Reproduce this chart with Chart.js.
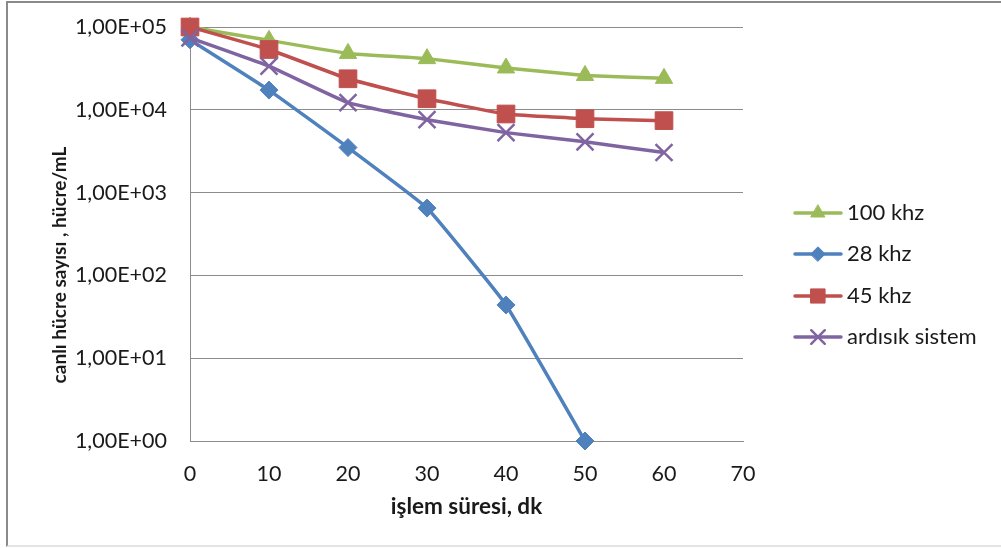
<!DOCTYPE html>
<html>
<head>
<meta charset="utf-8">
<title>canlı hücre sayısı</title>
<script src="https://cdn.jsdelivr.net/npm/chart.js@4.4.1/dist/chart.umd.min.js"></script>
<style>
    html, body { margin: 0; padding: 0; background: #fff; overflow: hidden; }
    #wrap { position: relative; width: 1001px; height: 548px; overflow: hidden; }
    #frame {
        position: absolute; left: 6px; top: 1px; width: 1020px; height: 542px;
        border: 2px solid #8a8a8a; border-bottom-color: #e4e4e4;
    }
    #chart { position: absolute; left: 0; top: 0; }
</style>
</head>
<body>
<div id="wrap">
    <div id="frame"></div>
    <canvas id="chart" width="1001" height="548"></canvas>
</div>
<script>
// işlem süresi (dk)
const sureler = [0, 10, 20, 30, 40, 50, 60];

// canlı hücre sayısı, hücre/mL
const khz100 = [100000, 69000, 48000, 41500, 32000, 26000, 24000];
const khz28 = [70000, 17300, 3500, 650, 44, 1];
const khz45 = [100000, 53500, 23700, 13600, 8900, 7800, 7400];
const ardisik = [74000, 33700, 12200, 7600, 5300, 4100, 3050];

const seriesNames = ['100 khz', '28 khz', '45 khz', 'ardısık sistem'];
const yTicks = [1, 10, 100, 1000, 10000, 100000];

const FONT = 'Lato, "Open Sans", "Liberation Sans", sans-serif';
const GRID = '#8c8c8c';
const INK = '#1a1a1a';

function toPoints(values) {
    return values.map((v, i) => ({ x: sureler[i], y: v }));
}

function sciLabel(v) {
    const exp = Math.round(Math.log10(v));
    return '1,00E+' + String(exp).padStart(2, '0');
}

function series(label, values, color, style, radius, borderW, order) {
    return {
        label: label,
        data: toPoints(values),
        borderColor: color,
        backgroundColor: color,
        borderWidth: 3.5,
        pointStyle: style,
        pointRadius: radius,
        pointHoverRadius: radius,
        pointBackgroundColor: color,
        pointBorderColor: color,
        pointBorderWidth: borderW,
        tension: 0.1,
        clip: false,
        order: order
    };
}

// legend on the right: line with the marker in the middle
const legendRows = [213, 254, 296, 337];
const seriesLegend = {
    id: 'seriesLegend',
    afterDraw(chart) {
        const ctx = chart.ctx;
        chart.data.datasets.forEach((ds, i) => {
            const y = legendRows[i];
            ctx.save();
            ctx.strokeStyle = ds.borderColor;
            ctx.lineWidth = ds.borderWidth;
            ctx.lineCap = 'round';
            ctx.beginPath();
            ctx.moveTo(795, y);
            ctx.lineTo(841, y);
            ctx.stroke();

            ctx.fillStyle = ds.pointBackgroundColor;
            ctx.strokeStyle = ds.pointBorderColor;
            ctx.lineWidth = ds.pointBorderWidth;
            Chart.helpers.drawPoint(ctx, {
                pointStyle: ds.pointStyle,
                radius: ds.pointRadius * 0.8,
                borderWidth: ds.pointBorderWidth,
                rotation: 0
            }, 818, y);

            ctx.fillStyle = INK;
            ctx.font = '22px ' + FONT;
            ctx.textAlign = 'left';
            ctx.textBaseline = 'middle';
            ctx.fillText(ds.label, 847, y);
            ctx.restore();
        });
    }
};

// vertical axis title, sits a bit below the plot's middle
const yTitle = {
    id: 'yTitle',
    afterDraw(chart) {
        const ctx = chart.ctx;
        ctx.save();
        ctx.translate(60, 265);
        ctx.rotate(-Math.PI / 2);
        ctx.font = 'bold 19px ' + FONT;
        ctx.fillStyle = INK;
        ctx.textAlign = 'center';
        ctx.textBaseline = 'middle';
        ctx.fillText('canlı hücre sayısı , hücre/mL', 0, 0);
        ctx.restore();
    }
};

new Chart(document.getElementById('chart'), {
    type: 'line',
    data: {
        datasets: [
            series(seriesNames[0], khz100, '#9bbb59', 'triangle', 10, 1, 4),
            series(seriesNames[1], khz28, '#4f81bd', 'rectRot', 9, 1, 3),
            series(seriesNames[2], khz45, '#c0504d', 'rect', 12.5, 1, 2),
            series(seriesNames[3], ardisik, '#8064a2', 'crossRot', 12, 2.5, 1)
        ]
    },
    options: {
        responsive: false,
        animation: false,
        events: [],
        layout: { padding: { top: 27, right: 258, left: 0, bottom: 0 } },
        plugins: {
            legend: { display: false },
            tooltip: { enabled: false }
        },
        scales: {
            x: {
                type: 'linear',
                min: 0,
                max: 70,
                ticks: {
                    stepSize: 10,
                    padding: 20,
                    color: INK,
                    font: { family: FONT, size: 21.5 }
                },
                grid: { display: false, drawTicks: false },
                border: { display: true, color: GRID, width: 1 },
                title: {
                    display: true,
                    text: 'işlem süresi, dk',
                    color: INK,
                    font: { family: FONT, size: 22.5, weight: 'bold' },
                    padding: { top: 0, bottom: 28 }
                },
                afterFit(scale) {
                    scale.height = 107;
                    scale.paddingLeft = 0;
                    scale.paddingRight = 0;
                }
            },
            y: {
                type: 'logarithmic',
                min: 1,
                max: 100000,
                afterBuildTicks(scale) {
                    scale.ticks = yTicks.map(v => ({ value: v }));
                },
                ticks: {
                    padding: 23,
                    color: INK,
                    font: { family: FONT, size: 21.5 },
                    callback: (v) => sciLabel(v)
                },
                grid: { color: GRID, lineWidth: 1, drawTicks: false },
                border: { display: true, color: GRID, width: 1 },
                afterFit(scale) {
                    scale.width = 190;
                    scale.paddingTop = 0;
                    scale.paddingBottom = 0;
                }
            }
        }
    },
    plugins: [seriesLegend, yTitle]
});
</script>
</body>
</html>
